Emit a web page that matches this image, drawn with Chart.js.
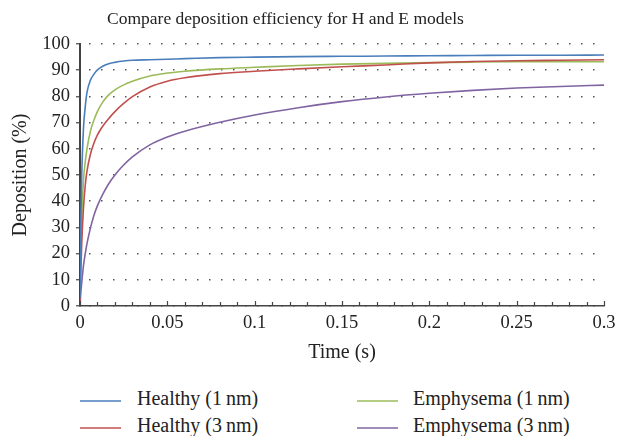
<!DOCTYPE html>
<html>
<head>
<meta charset="utf-8">
<script src="https://cdn.jsdelivr.net/npm/chart.js@4/dist/chart.umd.min.js"></script>
<style>
  body { margin: 0; background: #fff; }
  #wrap { position: relative; width: 619px; height: 436px;
    font-family: 'Liberation Serif', 'DejaVu Serif', serif; color: #222; }
  #title { position: absolute; left: 0; top: 6px; width: 571px; text-align: center;
    font-size: 17.5px; line-height: 24px; white-space: nowrap; }
  #box { position: absolute; left: 0; top: 0; width: 619px; height: 370px; }
  #legend { position: absolute; left: 0; top: 386px; width: 619px; height: 50px; font-size: 20px; }
  .item { position: absolute; height: 24px; line-height: 24px; white-space: nowrap; }
  .item .ln { position: absolute; top: 14px; height: 1.5px; }
</style>
</head>
<body>
<div id="wrap">
  <div id="box"><canvas id="myChart"></canvas></div>
  <div id="title">Compare deposition efficiency for H and E models</div>
  <div id="legend"></div>
</div>
<script>
// 時間 (s)
const times = [0, 0.0005, 0.001, 0.002, 0.003, 0.004, 0.006, 0.008, 0.01, 0.013, 0.016, 0.02,
  0.025, 0.03, 0.04, 0.05, 0.06, 0.08, 0.1, 0.125, 0.15, 0.175, 0.2, 0.225, 0.25, 0.275, 0.3];

// 各モデルの沈着率 (%)
const healthy1nm = [3, 33, 50, 68, 76, 81.5, 86.2, 88.5, 90.1, 91.5, 92.4, 93.0,
  93.5, 93.8, 94.0, 94.2, 94.4, 94.8, 95.0, 95.2, 95.3, 95.4, 95.5, 95.6, 95.7, 95.7, 95.8];
const healthy3nm = [2, 14, 24, 37.5, 46, 51.5, 58, 62.2, 65.3, 68.6, 71.2, 74.2,
  77.3, 79.9, 83.6, 85.8, 87.1, 88.7, 89.6, 90.5, 91.3, 92.0, 92.8, 93.3, 93.6, 93.8, 94.0];
const emphysema1nm = [3, 20, 33, 48, 55, 60, 66.8, 71, 74.3, 77.8, 80.3, 82.5,
  84.4, 85.8, 87.8, 88.9, 89.6, 90.5, 91.1, 91.8, 92.3, 92.6, 92.9, 93.1, 93.2, 93.2, 93.2];
const emphysema3nm = [0, 5.5, 9, 15.5, 20, 23.8, 29.8, 34.6, 38.3, 42.6, 46.2, 50.0,
  53.8, 56.9, 61.5, 64.5, 66.7, 70.1, 72.9, 75.7, 78.0, 79.8, 81.2, 82.3, 83.2, 83.8, 84.3];

const seriesNames = ['Healthy (1\u2009nm)', 'Healthy (3\u2009nm)', 'Emphysema (1\u2009nm)', 'Emphysema (3\u2009nm)'];
const seriesValues = [healthy1nm, healthy3nm, emphysema1nm, emphysema3nm];
const seriesColors = ['rgb(74,126,187)', 'rgb(192,80,77)', 'rgb(155,187,89)', 'rgb(128,100,162)'];

const serif = "'Liberation Serif', 'DejaVu Serif', serif";

const datasets = seriesNames.map((name, i) => ({
  label: name,
  data: times.map((t, j) => ({ x: t, y: seriesValues[i][j] })),
  borderColor: seriesColors[i],
  backgroundColor: seriesColors[i],
  borderWidth: 1.6,
  pointRadius: 0,
  cubicInterpolationMode: 'monotone',
  fill: false
}));

// x軸の目盛りを内側に描く
const innerTicks = {
  id: 'innerTicks',
  afterDatasetsDraw(chart) {
    const xs = chart.scales.x;
    const ctx = chart.ctx;
    const bottom = chart.chartArea.bottom;
    ctx.save();
    ctx.strokeStyle = '#444';
    ctx.lineWidth = 1.2;
    xs.ticks.forEach(t => {
      const px = Math.round(xs.getPixelForValue(t.value)) + 0.5;
      const major = Math.round(t.value * 100) % 5 === 0;
      ctx.beginPath();
      ctx.moveTo(px, bottom);
      ctx.lineTo(px, bottom - (major ? 5 : 4));
      ctx.stroke();
    });
    ctx.restore();
  }
};

const config = {
  type: 'line',
  data: { datasets: datasets },
  options: {
    responsive: true,
    maintainAspectRatio: false,
    animation: false,
    layout: { padding: { left: 0, right: 15, top: 44, bottom: 0 } },
    plugins: {
      legend: { display: false },
      tooltip: { enabled: false },
      title: { display: false }
    },
    scales: {
      x: {
        type: 'linear',
        min: 0,
        max: 0.3,
        ticks: {
          stepSize: 0.01,
          autoSkip: false,
          maxRotation: 0,
          padding: 6,
          color: '#222',
          font: { family: serif, size: 18.5 },
          callback: v => (Math.round(v * 100) % 5 === 0 ? String(+v.toFixed(2)) : '')
        },
        grid: { drawOnChartArea: false, drawTicks: false },
        border: { color: '#444', width: 1.5 },
        title: {
          display: true,
          text: 'Time (s)',
          color: '#222',
          font: { family: serif, size: 20 },
          padding: { top: 6, bottom: 5 }
        },
        afterFit: s => { s.height = 64; s.paddingRight = 5; }
      },
      y: {
        min: 0,
        max: 100,
        ticks: {
          stepSize: 10,
          padding: 6,
          color: '#222',
          font: { family: serif, size: 18.5 }
        },
        grid: {
          color: '#555',
          lineWidth: 1.5,
          tickLength: 4,
          tickColor: '#444',
          tickWidth: 1.2
        },
        border: { color: '#444', width: 2, dash: [1.5, 10.5], dashOffset: -8 },
        title: {
          display: true,
          text: 'Deposition (%)',
          color: '#222',
          font: { family: serif, size: 20 },
          padding: { top: 9, bottom: 0 }
        },
        afterFit: s => { s.width = 80; }
      }
    }
  },
  plugins: [innerTicks]
};

const myChart = new Chart(document.getElementById('myChart'), config);

// 凡例 (2列)
const legendPos = [[80, 0], [80, 27], [357, 0], [357, 27]];
const legend = document.getElementById('legend');
seriesNames.forEach((name, i) => {
  const item = document.createElement('div');
  item.className = 'item';
  item.style.left = legendPos[i][0] + 'px';
  item.style.top = legendPos[i][1] + 'px';
  const ln = document.createElement('div');
  ln.className = 'ln';
  ln.style.left = '0px';
  ln.style.width = '41px';
  ln.style.background = seriesColors[i];
  ln.style.opacity = '0.75';
  const txt = document.createElement('span');
  txt.style.marginLeft = (i < 2 ? 57 : 56) + 'px';
  txt.textContent = name;
  item.appendChild(ln);
  item.appendChild(txt);
  legend.appendChild(item);
});
</script>
</body>
</html>
